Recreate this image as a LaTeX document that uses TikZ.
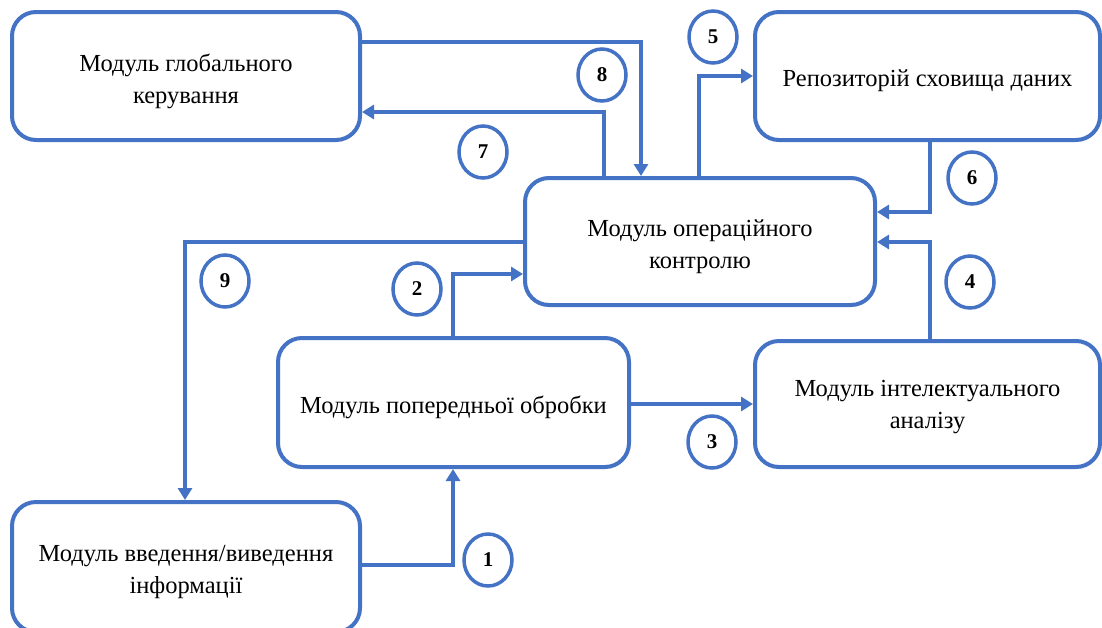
\documentclass[tikz,border=0pt]{standalone}
\usepackage{fontspec}
\setmainfont{Liberation Serif}
\usetikzlibrary{arrows.meta,shapes.geometric}
\definecolor{wblue}{HTML}{4472C4}
\tikzset{
  modbox/.style={draw=wblue, line width=4pt, rounded corners=24pt, fill=white, inner sep=0pt},
  modtext/.style={align=center, inner sep=0pt, yshift=-5pt, font=\fontsize{24.5}{32}\selectfont},
  arr/.style={draw=wblue, line width=4pt, -{Triangle[length=12pt,width=14pt]}},
  numc/.style={draw=wblue, line width=3.5pt, ellipse, minimum width=48pt, minimum height=52pt,
    inner sep=0pt, font=\fontsize{21}{21}\selectfont\bfseries}
}
\begin{document}
\begin{tikzpicture}[x=1pt,y=-1pt]
\useasboundingbox (0,0) rectangle (1102,627);
\begin{scope}
\clip (0,0) rectangle (1102,627);
\node[modbox, minimum width=348pt, minimum height=128pt, label={[modtext]center:{Модуль глобального\\керування}}] (glob) at (186,76) {};
\node[modbox, minimum width=345pt, minimum height=128pt, label={[modtext]center:{Репозиторій сховища даних}}] (repo) at (927.5,76) {};
\node[modbox, minimum width=350pt, minimum height=127pt, label={[modtext]center:{Модуль операційного\\контролю}}] (oper) at (700,241.5) {};
\node[modbox, minimum width=351pt, minimum height=129pt, label={[modtext]center:{Модуль попередньої обробки}}] (prep) at (453.5,402.5) {};
\node[modbox, minimum width=345pt, minimum height=126pt, label={[modtext,yshift=2pt]center:{Модуль інтелектуального\\аналізу}}] (intel) at (927.5,404) {};
\node[modbox, minimum width=348pt, minimum height=130pt, label={[modtext]center:{Модуль введення/виведення\\інформації}}] (io) at (186,567) {};

\draw[arr] (glob.east |- 0,42) -| (oper.north -| 641,0);
\draw[arr] (oper.north -| 604,0) |- (glob.east |- 0,112);
\draw[arr] (oper.north -| 699,0) |- (repo.west |- 0,76);
\draw[arr] (repo.south -| 930,0) |- (oper.east |- 0,212);
\draw[arr] (intel.north -| 930,0) |- (oper.east |- 0,242);
\draw[arr] (oper.west |- 0,242) -| (io.north -| 185,0);
\draw[arr] (prep.north -| 453,0) |- (oper.west |- 0,274);
\draw[arr] (prep.east |- 0,404) -- (intel.west |- 0,404);
\draw[arr] (io.east |- 0,565) -| (prep.south -| 453,0);

\node[numc] (n8) at (602,75) {8};
\node[numc] (n7) at (483,152) {7};
\node[numc] (n5) at (713,37) {5};
\node[numc] (n6) at (972,178) {6};
\node[numc] (n4) at (970,282) {4};
\node[numc] (n9) at (225,281) {9};
\node[numc] (n2) at (417,289) {2};
\node[numc] (n3) at (712,442) {3};
\node[numc] (n1) at (488,560) {1};
\end{scope}
\end{tikzpicture}
\end{document}
